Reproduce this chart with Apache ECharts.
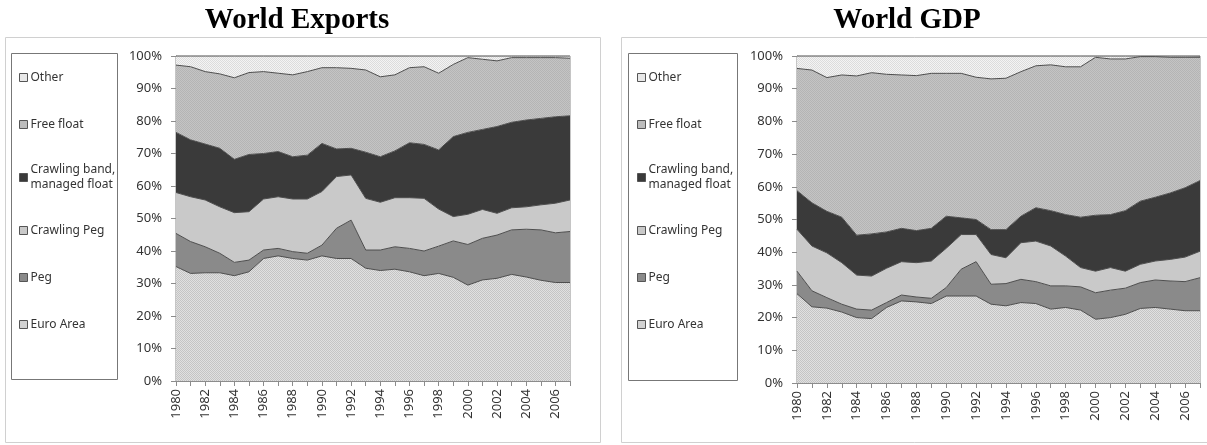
<!DOCTYPE html>
<html>
<head>
<meta charset="utf-8">
<script src="https://cdn.jsdelivr.net/npm/echarts@6/dist/echarts.min.js"></script>
<style>
  html, body { margin: 0; padding: 0; background: #fff; }
  #chart { width: 1207px; height: 445px; }
</style>
</head>
<body>
<div id="chart"></div>
<script>
// years on the x axis
const years = ['1980', '1981', '1982', '1983', '1984', '1985', '1986', '1987', '1988', '1989',
  '1990', '1991', '1992', '1993', '1994', '1995', '1996', '1997', '1998', '1999',
  '2000', '2001', '2002', '2003', '2004', '2005', '2006', '2007']
const yTicks = [0, 10, 20, 30, 40, 50, 60, 70, 80, 90, 100]

// World Exports, share in %
const expEuro = [35.2, 33.1, 33.3, 33.3, 32.4, 33.6, 37.7, 38.5, 37.7, 37.2, 38.5, 37.7, 37.7, 34.7, 34.0, 34.4, 33.6, 32.4, 33.1, 31.9, 29.5, 31.1, 31.6, 32.8, 32.0, 31.0, 30.3, 30.3]
const expPeg = [10.2, 9.8, 8.0, 6.0, 4.1, 3.6, 2.6, 2.3, 2.1, 2.1, 3.3, 9.3, 11.8, 5.6, 6.3, 6.9, 7.2, 7.6, 8.4, 11.2, 12.5, 12.8, 13.3, 13.7, 14.7, 15.5, 15.3, 15.7]
const expCrawlPeg = [12.6, 13.8, 14.4, 14.3, 15.3, 14.9, 15.7, 15.9, 16.2, 16.7, 16.5, 15.9, 13.9, 15.9, 14.7, 15.1, 15.6, 16.2, 11.4, 7.5, 9.3, 8.9, 6.7, 6.8, 6.9, 7.7, 9.1, 9.7]
const expCrawlBand = [18.5, 17.5, 17.2, 18.0, 16.4, 17.6, 14.0, 13.9, 13.0, 13.5, 14.8, 8.5, 8.2, 14.2, 14.0, 14.4, 16.9, 16.6, 18.2, 24.6, 25.2, 24.6, 26.7, 26.3, 26.7, 26.6, 26.6, 25.9]
const expFree = [20.7, 22.5, 22.3, 22.9, 25.1, 25.2, 25.2, 24.1, 25.2, 25.7, 23.3, 25.0, 24.6, 25.3, 24.6, 23.4, 23.1, 23.9, 23.6, 22.2, 23.0, 21.6, 20.2, 19.9, 19.2, 18.7, 18.2, 17.7]
const expOther = [2.8, 3.3, 4.8, 5.5, 6.7, 5.1, 4.8, 5.3, 5.8, 4.8, 3.6, 3.6, 3.8, 4.3, 6.4, 5.8, 3.6, 3.3, 5.3, 2.6, 0.5, 1.0, 1.5, 0.5, 0.5, 0.5, 0.5, 0.7]

// World GDP, share in %
const gdpEuro = [27.3, 23.3, 22.9, 21.7, 20.0, 19.7, 23.1, 25.1, 24.8, 24.3, 26.6, 26.6, 26.6, 24.1, 23.6, 24.6, 24.3, 22.6, 23.1, 22.3, 19.5, 20.0, 21.0, 22.8, 23.1, 22.6, 22.1, 22.1]
const gdpPeg = [6.9, 4.9, 3.2, 2.4, 2.6, 2.6, 1.5, 1.8, 1.5, 1.6, 2.6, 8.2, 10.5, 6.1, 6.8, 7.1, 6.7, 7.1, 6.6, 7.1, 8.1, 8.4, 8.0, 7.9, 8.4, 8.6, 8.9, 10.1]
const gdpCrawlPeg = [12.8, 13.7, 13.7, 12.7, 10.4, 10.4, 10.5, 10.2, 10.5, 11.4, 12.0, 10.6, 8.3, 9.1, 7.9, 11.2, 12.4, 12.2, 9.1, 5.9, 6.6, 6.9, 5.2, 5.6, 5.8, 6.6, 7.5, 8.1]
const gdpCrawlBand = [11.8, 13.2, 12.7, 13.9, 12.2, 12.9, 11.1, 10.2, 9.8, 10.0, 9.8, 5.1, 4.6, 7.6, 8.6, 8.1, 10.2, 10.8, 12.7, 15.4, 17.1, 16.2, 18.5, 19.3, 19.5, 20.3, 21.2, 21.6]
const gdpFree = [37.4, 40.6, 40.9, 43.5, 48.7, 49.3, 48.2, 46.9, 47.4, 47.4, 43.7, 44.2, 43.5, 46.1, 46.3, 44.2, 43.4, 44.6, 45.2, 46.0, 48.3, 47.6, 46.4, 44.2, 43.0, 41.5, 39.9, 37.7]
const gdpOther = [3.8, 4.3, 6.6, 5.8, 6.1, 5.1, 5.6, 5.8, 6.0, 5.3, 5.3, 5.3, 6.5, 7.0, 6.8, 4.8, 3.0, 2.7, 3.3, 3.3, 0.4, 0.9, 0.9, 0.2, 0.2, 0.4, 0.4, 0.4]

const names = ['Euro Area', 'Peg', 'Crawling Peg', 'Crawling band,\nmanaged float', 'Free float', 'Other']

// fine stipple textures like the excel fills
function dots(bg, dot) {
  const c = document.createElement('canvas')
  c.width = 2
  c.height = 2
  const ctx = c.getContext('2d')
  ctx.fillStyle = bg
  ctx.fillRect(0, 0, 2, 2)
  ctx.fillStyle = dot
  ctx.fillRect(0, 0, 1, 1)
  ctx.fillRect(1, 1, 1, 1)
  return { image: c, repeat: 'repeat' }
}

const fills = [
  dots('#e0e0e0', '#c4c4c4'),
  '#8a8a8a',
  '#c9c9c9',
  '#3a3a3a',
  dots('#c4c4c4', '#b4b4b4'),
  dots('#f4f4f4', '#dcdcdc')
]

const font = 'Noto Sans'

function makeSeries(stack, idx, list) {
  return list.map((d, i) => ({
    name: names[i],
    type: 'line',
    stack: stack,
    xAxisIndex: idx,
    yAxisIndex: idx,
    data: d,
    symbol: 'none',
    smooth: false,
    lineStyle: { color: '#4d4d4d', width: 1 },
    areaStyle: { color: fills[i], opacity: 1 },
    itemStyle: { color: fills[i] },
    emphasis: { disabled: true }
  }))
}

function xAxis(idx) {
  return {
    type: 'category',
    gridIndex: idx,
    data: years,
    boundaryGap: false,
    axisLine: { lineStyle: { color: '#8c8c8c' } },
    axisTick: { interval: 0, length: 5, lineStyle: { color: '#8c8c8c' } },
    axisLabel: { interval: 1, rotate: 90, color: '#333', fontFamily: font, fontSize: 13, margin: 8 }
  }
}

function yAxis(idx) {
  return {
    type: 'value',
    gridIndex: idx,
    min: 0,
    max: 100,
    interval: 10,
    axisLine: { show: true, lineStyle: { color: '#8c8c8c' } },
    axisTick: { show: true, length: 5, lineStyle: { color: '#8c8c8c' } },
    splitLine: { show: false },
    axisLabel: { formatter: v => yTicks.includes(v) ? v + '%' : '', color: '#333', fontFamily: font, fontSize: 13, margin: 14 }
  }
}

function legend(left) {
  return {
    orient: 'vertical',
    left: left,
    top: 65,
    data: names.slice().reverse(),
    itemWidth: 8,
    itemHeight: 8,
    itemGap: 32,
    selectedMode: false,
    icon: 'rect',
    itemStyle: { borderColor: '#555', borderWidth: 1 },
    textStyle: { color: '#333', fontFamily: font, fontSize: 12, lineHeight: 15, height: 15, padding: [0, 0, 0, -2] }
  }
}

const titleFont = { fontFamily: 'Liberation Serif', fontWeight: 'bold', fontSize: 29, color: '#000' }

const chart = echarts.init(document.getElementById('chart'), null, { renderer: 'canvas' })
chart.setOption({
  animation: false,
  title: [
    { text: 'World Exports', left: 292, top: 1, textAlign: 'center', textStyle: titleFont },
    { text: 'World GDP', left: 902, top: 1, textAlign: 'center', textStyle: titleFont }
  ],
  graphic: [
    { type: 'rect', shape: { x: 5.5, y: 37.5, width: 595, height: 405 }, style: { fill: 'none', stroke: '#d0d0d0', lineWidth: 1 }, silent: true },
    { type: 'rect', shape: { x: 621.5, y: 37.5, width: 590, height: 405 }, style: { fill: 'none', stroke: '#d0d0d0', lineWidth: 1 }, silent: true },
    { type: 'rect', shape: { x: 11.5, y: 53.5, width: 106, height: 326 }, style: { fill: 'none', stroke: '#777', lineWidth: 1 }, silent: true },
    { type: 'rect', shape: { x: 628.5, y: 53.5, width: 109, height: 327 }, style: { fill: 'none', stroke: '#777', lineWidth: 1 }, silent: true }
  ],
  legend: [legend(14), legend(632)],
  grid: [
    { left: 176, top: 56, width: 394, height: 325, show: true, borderColor: '#8c8c8c', borderWidth: 1, backgroundColor: 'transparent' },
    { left: 797, top: 56, width: 403, height: 327, show: true, borderColor: '#8c8c8c', borderWidth: 1, backgroundColor: 'transparent' }
  ],
  xAxis: [xAxis(0), xAxis(1)],
  yAxis: [yAxis(0), yAxis(1)],
  series: [
    ...makeSeries('exp', 0, [expEuro, expPeg, expCrawlPeg, expCrawlBand, expFree, expOther]),
    ...makeSeries('gdp', 1, [gdpEuro, gdpPeg, gdpCrawlPeg, gdpCrawlBand, gdpFree, gdpOther])
  ]
})
</script>
</body>
</html>
